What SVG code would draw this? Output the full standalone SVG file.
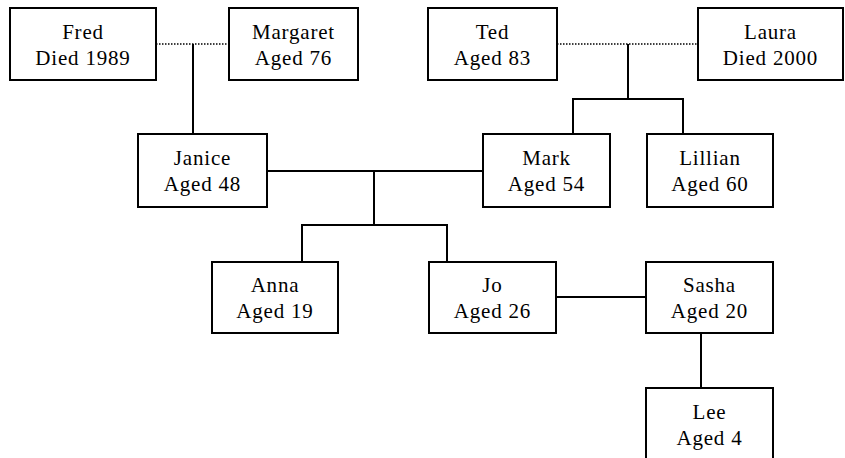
<svg xmlns="http://www.w3.org/2000/svg" width="845" height="458" viewBox="0 0 845 458">
<style>
  .box { fill: #ffffff; stroke: #000000; stroke-width: 2; }
  .lbl { font-family: "Liberation Serif", "Times New Roman", serif; font-size: 21px; letter-spacing: 0.8px; fill: #000000; text-anchor: middle; }
  .ln { stroke: #000000; stroke-width: 2; fill: none; }
  .dot { stroke: #000000; stroke-width: 1.5; stroke-dasharray: 1.5 1.5; fill: none; }
</style>
<rect width="845" height="458" fill="#ffffff"/>
<g id="connectors">
  <line class="dot" x1="156" y1="44" x2="229" y2="44"/>
  <line class="dot" x1="557" y1="44" x2="698" y2="44"/>
  <line class="ln" x1="193" y1="44" x2="193" y2="134"/>
  <polyline class="ln" points="628,44 628,99"/>
  <polyline class="ln" points="573,134 573,99 683,99 683,134"/>
  <line class="ln" x1="267" y1="171" x2="483" y2="171"/>
  <line class="ln" x1="374" y1="171" x2="374" y2="225"/>
  <polyline class="ln" points="302,262 302,225 447,225 447,262"/>
  <line class="ln" x1="556" y1="297" x2="646" y2="297"/>
  <line class="ln" x1="701" y1="333" x2="701" y2="388"/>
</g>
<g id="fred">
  <rect class="box" x="10" y="8" width="146" height="72"/>
  <text class="lbl" x="83" y="39">Fred</text>
  <text class="lbl" x="83" y="65">Died 1989</text>
</g>
<g id="margaret">
  <rect class="box" x="229" y="8" width="129" height="72"/>
  <text class="lbl" x="293.5" y="39">Margaret</text>
  <text class="lbl" x="293.5" y="65">Aged 76</text>
</g>
<g id="ted">
  <rect class="box" x="428" y="8" width="129" height="72"/>
  <text class="lbl" x="492.5" y="39">Ted</text>
  <text class="lbl" x="492.5" y="65">Aged 83</text>
</g>
<g id="laura">
  <rect class="box" x="698" y="8" width="145" height="72"/>
  <text class="lbl" x="770.5" y="39">Laura</text>
  <text class="lbl" x="770.5" y="65">Died 2000</text>
</g>
<g id="janice">
  <rect class="box" x="138" y="134" width="129" height="73"/>
  <text class="lbl" x="202.5" y="165">Janice</text>
  <text class="lbl" x="202.5" y="191">Aged 48</text>
</g>
<g id="mark">
  <rect class="box" x="483" y="134" width="127" height="73"/>
  <text class="lbl" x="546.5" y="165">Mark</text>
  <text class="lbl" x="546.5" y="191">Aged 54</text>
</g>
<g id="lillian">
  <rect class="box" x="647" y="134" width="126" height="73"/>
  <text class="lbl" x="710" y="165">Lillian</text>
  <text class="lbl" x="710" y="191">Aged 60</text>
</g>
<g id="anna">
  <rect class="box" x="212" y="262" width="126" height="71"/>
  <text class="lbl" x="275" y="292">Anna</text>
  <text class="lbl" x="275" y="318">Aged 19</text>
</g>
<g id="jo">
  <rect class="box" x="429" y="262" width="127" height="71"/>
  <text class="lbl" x="492.5" y="292">Jo</text>
  <text class="lbl" x="492.5" y="318">Aged 26</text>
</g>
<g id="sasha">
  <rect class="box" x="646" y="262" width="127" height="71"/>
  <text class="lbl" x="709.5" y="292">Sasha</text>
  <text class="lbl" x="709.5" y="318">Aged 20</text>
</g>
<g id="lee">
  <rect class="box" x="646" y="388" width="127" height="74"/>
  <text class="lbl" x="709.5" y="419">Lee</text>
  <text class="lbl" x="709.5" y="445">Aged 4</text>
</g>
</svg>
